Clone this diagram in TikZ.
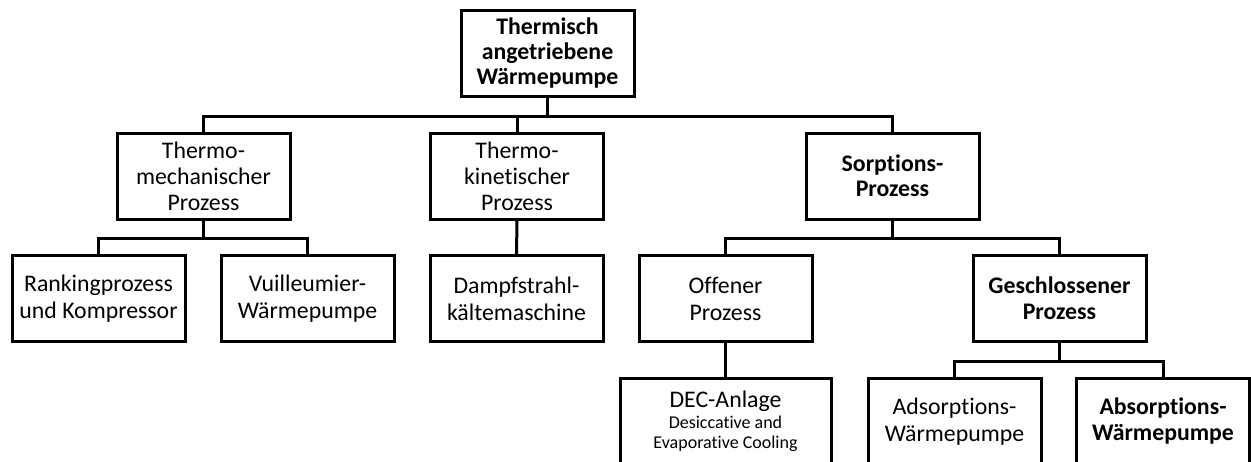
\documentclass[tikz,border=0pt]{standalone}
\usepackage{fontspec}
\setmainfont{Carlito}[Ligatures=NoCommon]
\begin{document}
\begin{tikzpicture}[x=1pt,y=-1pt,
  box/.style={draw=black,line width=3pt,fill=white,minimum width=173pt,minimum height=86pt,
    inner sep=0pt,align=center,font=\fontsize{23.8}{26}\selectfont},
  bbox/.style={box,font=\fontsize{23.8}{25}\selectfont\bfseries},
  wire/.style={draw=black,line width=3pt,line join=miter}]
\useasboundingbox (0,0) rectangle (1251,461);
\clip (0,0) rectangle (1251,461);
% nodes
\node[bbox] (top) at (547.5,53.5) {Thermisch\\angetriebene\\Wärmepumpe};
\node[box] (tm) at (203.5,176) {Thermo-\\mechanischer\\Prozess};
\node[box] (tk) at (517,176) {Thermo-\\kinetischer\\Prozess};
\node[bbox] (sp) at (892.5,176) {Sorptions-\\Prozess};
\node[box] (rk) at (98.5,298.5) {Rankingprozess\\[1pt]und Kompressor};
\node[box] (vu) at (307.5,298.5) {Vuilleumier-\\[1pt]Wärmepumpe};
\node[box] (ds) at (516.5,298.5) {Dampfstrahl-\\[1pt]kältemaschine};
\node[box] (of) at (725.5,298.5) {Offener\\[1pt]Prozess};
\node[bbox] (gp) at (1059.5,298.5) {Geschlossener\\[1pt]Prozess};
\node[box,minimum width=211pt] (dec) at (725.5,421.5) {DEC-Anlage\\[-5pt]{\fontsize{18}{20}\selectfont Desiccative and}\\[-6.5pt]{\fontsize{18}{20}\selectfont Evaporative Cooling}};
\node[box] (ad) at (954.5,421.5) {Adsorptions-\\[1pt]Wärmepumpe};
\node[bbox] (ab) at (1163,421.5) {Absorptions-\\[1pt]Wärmepumpe};
% connectors
\foreach \c in {tm,tk,sp} \draw[wire] (top.south) -- ++(0,18) -| (\c.north);
\foreach \c in {rk,vu} \draw[wire] (tm.south) -- ++(0,18) -| (\c.north);
\draw[wire] (tk.south) -- (ds.north);
\foreach \c in {of,gp} \draw[wire] (sp.south) -- ++(0,18) -| (\c.north);
\draw[wire] (of.south) -- (dec.north);
\foreach \c in {ad,ab} \draw[wire] (gp.south) -- ++(0,18) -| (\c.north);
\end{tikzpicture}
\end{document}
